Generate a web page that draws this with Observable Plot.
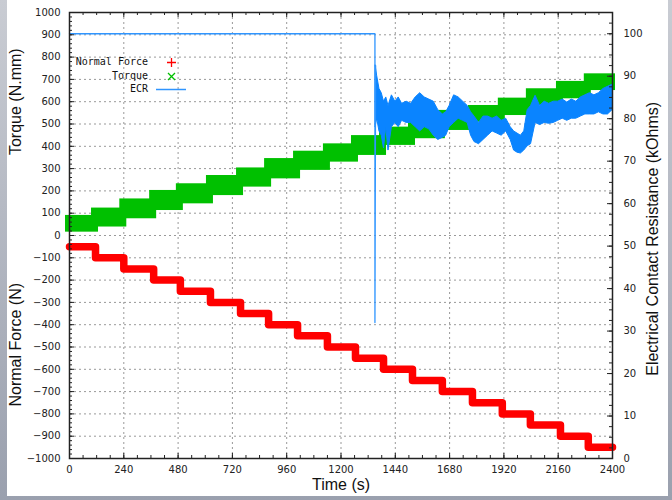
<!DOCTYPE html>
<html><head><meta charset="utf-8">
<script src="https://cdn.jsdelivr.net/npm/d3@7"></script>
<script src="https://cdn.jsdelivr.net/npm/@observablehq/plot@0.6"></script>
<style>
body{margin:0;background:#fff;}
#wrap{position:relative;width:672px;height:500px;background:linear-gradient(#c9ccd3,#9aa0ae);overflow:hidden;}
#panel{position:absolute;left:7px;top:0;width:661px;height:496px;background:#fff;}
#chart{position:absolute;left:0;top:0;}
.leg{position:absolute;left:0;width:148px;text-align:right;font:10px "DejaVu Sans Mono",monospace;line-height:12px;color:#111;white-space:pre;}
#legsym{position:absolute;left:0;top:0;}
</style></head><body>
<div id="wrap"><div id="panel"></div><div id="chart"></div>
<div class="leg" style="top:56px">Normal Force</div>
<div class="leg" style="top:70px">Torque</div>
<div class="leg" style="top:83px">ECR</div>
<svg id="legsym" width="672" height="120">
  <path d="M167,62.5H176M171.5,58V67" stroke="#ff0000" stroke-width="1.3"/>
  <path d="M168,73L175,80M175,73L168,80" stroke="#00c000" stroke-width="1.3"/>
  <path d="M156,89.5H186" stroke="#2f95ff" stroke-width="1.5"/>
</svg>
</div>
<script>
// ---- data ----
const timeTicks = [0,240,480,720,960,1200,1440,1680,1920,2160,2400];
const leftTicks = [-1000,-900,-800,-700,-600,-500,-400,-300,-200,-100,0,100,200,300,400,500,600,700,800,900,1000];
const rightTicks = [0,10,20,30,40,50,60,70,80,90,100];

// load steps (s)
const stepTimes = [0,115,240,372,490,623,756,880,1008,1140,1264,1388,1516,1648,1781,1913,2037,2170,2293,2400];
const normalForce = [-50,-100,-150,-200,-250,-300,-350,-400,-450,-500,-550,-600,-650,-700,-750,-800,-850,-900,-950];
const torqueLow  = [15,38,75,112,142,179,217,254,292,329,359,404,434,471,508,538,583,613,650];
const torqueHigh = [90,123,164,202,232,269,303,345,378,411,448,486,523,561,583,616,658,691,725];

// ECR (kOhms)
const ecrTime  = [0,1350,1350,1353];
const ecrValue = [100,100,32,92.5];
const ecrNoiseTime = [1353,1360,1370,1380,1390,1400,1410,1425,1440,1455,1470,1490,1510,1530,1550,1570,1590,1610,1630,1650,1665,1680,1700,1720,1740,1760,1775,1790,1810,1830,1850,1870,1890,1910,1930,1950,1965,1980,1995,2010,2025,2040,2060,2080,2100,2120,2140,2160,2180,2200,2220,2240,2260,2280,2300,2320,2340,2360,2380,2400];
const ecrNoiseLow  = [78,80,77,76,73,78,72.5,78,79,78,79.5,79,79,78,77,78,77.5,76,75,75.5,76,78,79,80,79.5,79,76,74.5,74,75,76,77,76.5,76,77,75,72.5,72,71.8,72.5,73.5,74,79,78.5,79,78.8,79,79.5,80,79.5,80,80,80.5,81,81,81,81.5,81,81,82];
const ecrNoiseHigh = [92.5,90,87,86,84,85,83,85.5,84,85,83.5,84,83.5,85,86,85,84.5,84,82,81,81.5,83,85.5,85,84,83,81.5,80.5,79,80.5,80.5,80,80.5,79.5,80,78,77,76.5,76,77,82,83,85.4,83,84,83.5,84,84,84.5,83.8,84.5,84,85,85.5,86,85.5,86,87,87.5,88];

// ---- layout ----
const W = 672, H = 500, ML = 69, MR = 60, MT = 12, MB = 42;
const iw = W - ML - MR, ih = H - MT - MB;
const toLeft = v => -1000 + v * 2000 / 105;

const torqueRows = normalForce.map((_, i) => ({t0: stepTimes[i], t1: stepTimes[i + 1], lo: torqueLow[i], hi: torqueHigh[i]}));
const forceRows = stepTimes.map((t, i) => ({t, f: normalForce[Math.min(i, normalForce.length - 1)]}));
const ecrRows = ecrTime.map((t, i) => ({t, v: ecrValue[i]}));
const ecrNoiseRows = ecrNoiseTime.map((t, i) => ({t, lo: ecrNoiseLow[i], hi: ecrNoiseHigh[i]}));

const timeMinor = d3.range(0, 2401, 60);
const leftMinor = d3.range(-1000, 1001, 20);
const rightMinor = d3.range(0, 105, 2.5).map(toLeft);
const xGrid = timeTicks.slice(1, -1);
const yGrid = leftTicks.slice(1, -1);
const ink = "#222";
const tickFont = {fontFamily: "DejaVu Sans, sans-serif", fontSize: 10, fill: ink};
const titleFont = {fontSize: 16, fontFamily: "Liberation Sans, Arial, sans-serif", fill: "#111", textAnchor: "middle"};

const chart = Plot.plot({
  width: W, height: H,
  marginLeft: ML, marginRight: MR, marginTop: MT, marginBottom: MB,
  style: {background: "transparent", fontFamily: "DejaVu Sans, sans-serif", fontSize: "10px", color: ink},
  x: {domain: [0, 2400], axis: null},
  y: {domain: [-1000, 1000], axis: null},
  marks: [
    Plot.ruleX(xGrid, {x: d => d, stroke: "#999", strokeDasharray: "2,3"}),
    Plot.ruleY(yGrid, {y: d => d, stroke: "#999", strokeDasharray: "2,3"}),
    Plot.rect(torqueRows, {x1: "t0", x2: "t1", y1: "lo", y2: "hi", fill: "#00c000", insetLeft: -4, insetRight: -3}),
    Plot.line(forceRows, {x: "t", y: "f", curve: "step-after", stroke: "#ff0000", strokeWidth: 7.5}),
    Plot.areaY(ecrNoiseRows, {x: "t", y1: d => toLeft(d.lo), y2: d => toLeft(d.hi), fill: "#0a84ff", stroke: "#0a84ff", strokeWidth: 1}),
    Plot.line(ecrRows, {x: "t", y: d => toLeft(d.v), stroke: "#2f95ff", strokeWidth: 1.3}),
    // tick marks (inward, gnuplot style)
    Plot.tickY(leftTicks, {y: d => d, insetRight: iw - 5, stroke: ink}),
    Plot.tickY(leftMinor, {y: d => d, insetRight: iw - 3, stroke: ink}),
    Plot.tickY(rightTicks.map(toLeft), {y: d => d, insetLeft: iw - 5, stroke: ink}),
    Plot.tickY(rightMinor, {y: d => d, insetLeft: iw - 3, stroke: ink}),
    Plot.tickX(timeTicks, {x: d => d, insetTop: ih - 5, stroke: ink}),
    Plot.tickX(timeMinor, {x: d => d, insetTop: ih - 3, stroke: ink}),
    Plot.tickX(timeTicks, {x: d => d, insetBottom: ih - 5, stroke: ink}),
    Plot.tickX(timeMinor, {x: d => d, insetBottom: ih - 3, stroke: ink}),
    // tick labels
    Plot.text(timeTicks, {x: d => d, text: d => String(d), frameAnchor: "bottom", dy: 14, textAnchor: "middle", ...tickFont}),
    Plot.text(leftTicks, {y: d => d, text: d => d < 0 ? "\u2212" + (-d) : String(d), frameAnchor: "left", dx: -9, textAnchor: "end", ...tickFont}),
    Plot.text(rightTicks, {y: d => toLeft(d), text: d => String(d), frameAnchor: "right", dx: 11, textAnchor: "start", ...tickFont}),
    // axis titles
    Plot.text([{label: "Torque (N.mm)", y: 600}], {text: "label", y: "y", frameAnchor: "left", dx: -54, rotate: -90, ...titleFont}),
    Plot.text([{label: "Normal Force (N)", y: -490}], {text: "label", y: "y", frameAnchor: "left", dx: -54, rotate: -90, ...titleFont}),
    Plot.text([{label: "Electrical Contact Resistance (kOhms)", y: -15}], {text: "label", y: "y", frameAnchor: "right", dx: 40, rotate: -90, ...titleFont}),
    Plot.text([{label: "Time (s)", t: 1200}], {text: "label", x: "t", frameAnchor: "bottom", dy: 31, ...titleFont}),
    Plot.frame({stroke: ink, strokeWidth: 1.5})
  ]
});
document.getElementById("chart").appendChild(chart);
</script>
</body></html>
